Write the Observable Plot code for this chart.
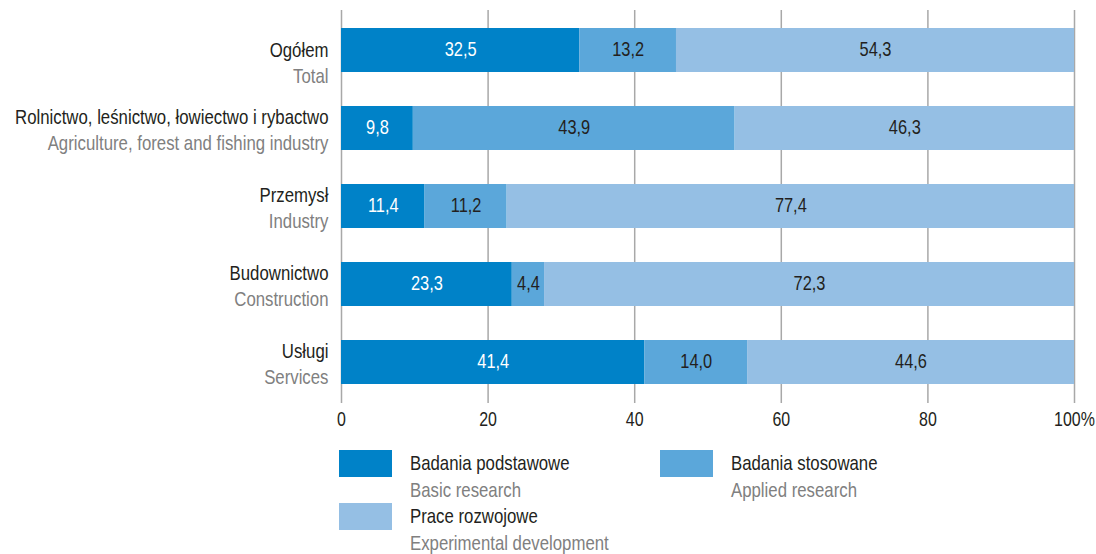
<!DOCTYPE html>
<html>
<head>
<meta charset="utf-8">
<script src="https://cdn.jsdelivr.net/npm/d3@7"></script>
<script src="https://cdn.jsdelivr.net/npm/@observablehq/plot@0.6"></script>
<style>
  html, body { margin: 0; padding: 0; background: #fff; overflow: hidden; }
  #chart svg { display: block; }
</style>
</head>
<body>
<div id="chart"></div>
<script>
const categoriesPl = ["Ogółem", "Rolnictwo, leśnictwo, łowiectwo i rybactwo", "Przemysł", "Budownictwo", "Usługi"];
const categoriesEn = ["Total", "Agriculture, forest and fishing industry", "Industry", "Construction", "Services"];
const seriesPl = ["Badania podstawowe", "Badania stosowane", "Prace rozwojowe"];
const seriesEn = ["Basic research", "Applied research", "Experimental development"];
const basic = [32.5, 9.8, 11.4, 23.3, 41.4];
const applied = [13.2, 43.9, 11.2, 4.4, 14.0];
const experimental = [54.3, 46.3, 77.4, 72.3, 44.6];
const xTicks = [0, 20, 40, 60, 80, 100];
const colors = ["#0082c8", "#5ba7da", "#95bfe4"];

const FONT = "'Liberation Sans', Arial, sans-serif";
const DARK = "#231f20";
const GREY = "#808080";
const fmt = v => v.toFixed(1).replace(".", ",");

const seriesValues = [basic, applied, experimental];
const rows = categoriesPl.flatMap((c, i) =>
  seriesValues.map((arr, k) => ({cat: c, series: seriesPl[k], value: arr[i]}))
);
const catIdx = categoriesPl.map((c, i) => i);
const labelMark = (filterFn, dyPl, dyEn) => [
  Plot.text(catIdx.filter(filterFn), {
    y: i => categoriesPl[i], text: i => categoriesPl[i], frameAnchor: "left", textAnchor: "end",
    dx: -13, dy: dyPl, fill: DARK, fontSize: 20, className: "lbl"
  }),
  Plot.text(catIdx.filter(filterFn), {
    y: i => categoriesPl[i], text: i => categoriesEn[i], frameAnchor: "left", textAnchor: "end",
    dx: -13, dy: dyEn, fill: GREY, fontSize: 20, className: "lbl"
  })
];

const chart = Plot.plot({
  width: 1096,
  height: 440,
  marginLeft: 341,
  marginRight: 22,
  marginTop: 10,
  marginBottom: 37,
  style: {fontFamily: FONT, fontSize: "20px", background: "white", color: DARK},
  x: {domain: [0, 100], axis: null},
  y: {domain: categoriesPl, axis: null, paddingInner: 0.433, paddingOuter: 0.21, align: 0.5},
  color: {domain: seriesPl, range: colors},
  marks: [
    Plot.ruleX(xTicks, {stroke: "#a8a8a8", strokeWidth: 1.5}),
    Plot.barX(rows, Plot.stackX({x: "value", y: "cat", fill: "series"})),
    Plot.text(rows, Plot.stackX({
      x: "value", y: "cat",
      text: d => d.series === seriesPl[0] ? fmt(d.value) : null,
      fill: "white", fontSize: 20, dy: -1, className: "val"
    })),
    Plot.text(rows, Plot.stackX({
      x: "value", y: "cat",
      text: d => d.series !== seriesPl[0] ? fmt(d.value) : null,
      fill: DARK, fontSize: 20, dy: -1, className: "val"
    })),
    Plot.axisX(xTicks, {
      tickSize: 0, tickPadding: 8, fontSize: 21, fill: DARK, className: "tck",
      tickFormat: d => d === 100 ? "100%" : String(d), label: null
    }),
    ...labelMark(i => i === 0, 0, 26),
    ...labelMark(i => i > 0, -11, 15)
  ]
});

// condense text horizontally around its own anchor point (mimics a condensed face)
function condense(t, k) {
  const tr = t.getAttribute("transform");
  if (tr) {
    t.setAttribute("transform", tr + ` scale(${k},1)`);
  } else {
    const xv = parseFloat(t.getAttribute("x") || 0);
    const yv = parseFloat(t.getAttribute("y") || 0);
    t.removeAttribute("x");
    t.removeAttribute("y");
    t.setAttribute("transform", `translate(${xv},${yv}) scale(${k},1)`);
  }
}
chart.querySelectorAll("text").forEach(t => {
  const g = t.closest("g");
  const cls = g ? (g.getAttribute("class") || "") : "";
  let k = 0.84;
  if (cls.includes("val")) k = 0.82;
  else if (cls.includes("tck")) k = 0.76;
  condense(t, k);
});
document.getElementById("chart").appendChild(chart);

// Legend below the chart
const legend = d3.create("svg")
  .attr("width", 1096)
  .attr("height", 114)
  .style("display", "block")
  .style("font-family", FONT)
  .style("font-size", "20px");

const legendPos = [
  {x: 339, y: 10},
  {x: 660, y: 10},
  {x: 339, y: 63}
];
seriesPl.forEach((name, k) => {
  const p = legendPos[k];
  const g = legend.append("g").attr("transform", `translate(${p.x},${p.y})`);
  g.append("rect").attr("width", 53).attr("height", 27).attr("fill", colors[k]);
  g.append("text").attr("transform", `translate(71,20) scale(0.84,1)`).attr("fill", DARK).text(name);
  g.append("text").attr("transform", `translate(71,47) scale(0.84,1)`).attr("fill", GREY).text(seriesEn[k]);
});
document.getElementById("chart").appendChild(legend.node());
</script>
</body>
</html>
